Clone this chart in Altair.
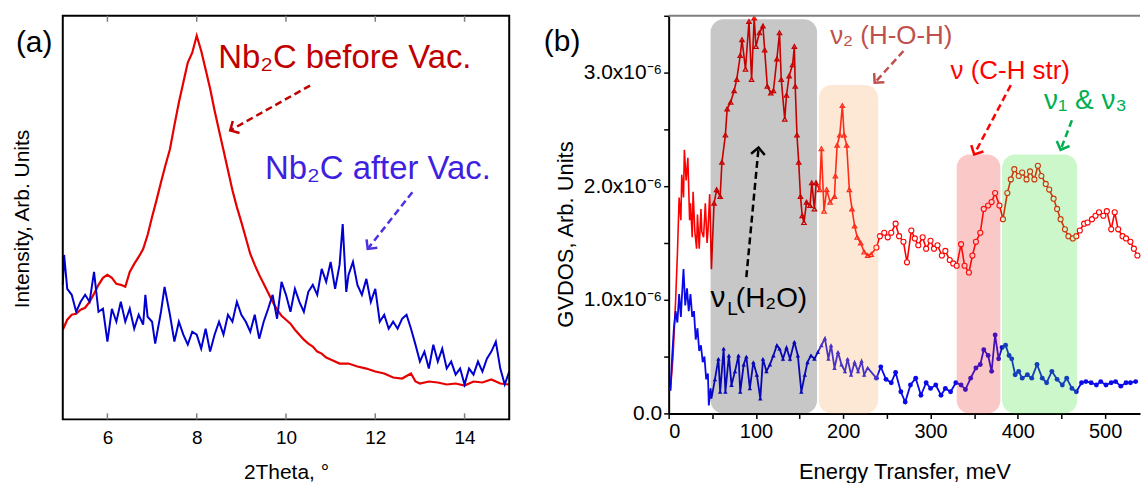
import altair as alt
import pandas as pd

FONT = "Liberation Sans"

# ---------------- Panel (a): XRD ----------------
a_red_theta = [5.0, 5.1, 5.2, 5.3, 5.4, 5.5, 5.6, 5.7, 5.8, 5.9, 6.0, 6.1, 6.2, 6.3, 6.4, 6.5, 6.6, 6.7, 6.8, 6.9,
               7.0, 7.1, 7.2, 7.3, 7.4, 7.5, 7.6, 7.7, 7.8, 7.9, 8.0, 8.1, 8.2, 8.3, 8.4, 8.5, 8.6, 8.7, 8.8, 8.9,
               9.0, 9.1, 9.2, 9.3, 9.4, 9.5, 9.6, 9.7, 9.8, 9.9, 10.0, 10.1, 10.2, 10.3, 10.4, 10.5, 10.6, 10.7,
               10.8, 10.9, 11.0, 11.2, 11.4, 11.6, 11.8, 12.0, 12.2, 12.4, 12.6, 12.8, 12.9, 13.0, 13.2, 13.4,
               13.6, 13.8, 14.0, 14.2, 14.4, 14.6, 14.8, 15.0]
a_red_int = [90, 100, 105, 106, 110, 112, 118, 126, 135, 142, 145, 142, 136, 135, 133, 148, 156, 163, 171, 185,
             203, 220, 238, 255, 271, 295, 318, 338, 358, 368, 385, 370, 351, 332, 310, 290, 270, 250, 230, 213,
             198, 182, 166, 155, 145, 136, 127, 118, 110, 104, 100, 96, 90, 85, 80, 76, 73, 68,
             66, 62, 60, 56, 56, 53, 51, 48, 46, 42, 41, 46, 38, 36, 38, 37,
             35, 36, 34, 38, 37, 40, 36, 35]

a_blue_theta = [5.0, 5.03, 5.1, 5.2, 5.3, 5.4, 5.5, 5.6, 5.7, 5.8, 5.9, 6.0, 6.1, 6.2, 6.3, 6.4, 6.5, 6.6, 6.7, 6.8,
                6.85, 6.9, 7.0, 7.07, 7.2, 7.28, 7.4, 7.5, 7.6, 7.7, 7.8, 7.9, 8.0, 8.1, 8.2, 8.3, 8.4, 8.5, 8.6,
                8.7, 8.8, 8.9, 9.0, 9.1, 9.2, 9.3, 9.4, 9.5, 9.6, 9.7, 9.8, 9.9, 10.0, 10.1, 10.2, 10.3, 10.4,
                10.5, 10.6, 10.7, 10.8, 10.9, 11.0, 11.1, 11.2, 11.27, 11.35, 11.4, 11.5, 11.6, 11.7, 11.8, 11.9,
                12.0, 12.1, 12.2, 12.3, 12.4, 12.5, 12.6, 12.7, 12.8, 12.9, 13.0, 13.1, 13.2, 13.3, 13.4, 13.5,
                13.6, 13.7, 13.8, 13.9, 14.0, 14.1, 14.2, 14.3, 14.4, 14.5, 14.6, 14.7, 14.8, 14.9, 15.0]
a_blue_int = [135, 165, 131, 125, 108, 118, 125, 118, 148, 108, 111, 78, 111, 98, 118, 98, 111, 91, 105, 95,
              125, 103, 98, 76, 108, 133, 105, 78, 98, 85, 75, 88, 85, 71, 91, 68, 85, 98, 85,
              105, 98, 118, 105, 98, 88, 105, 81, 98, 111, 125, 101, 138, 125, 108, 131, 118, 108,
              128, 135, 125, 151, 138, 158, 131, 155, 196, 128, 145, 158, 135, 125, 141, 118,
              131, 98, 105, 91, 98, 91, 101, 105, 91, 75, 58, 68, 51, 75, 58, 71,
              51, 58, 45, 51, 35, 51, 45, 58, 48, 61, 68, 78, 51, 35, 48]

a_ticks = [6, 8, 10, 12, 14]

# ---------------- Panel (b): GVDOS (units of 1e-6) ----------------
b_red_e = [2, 5, 8, 10, 12, 14, 15, 17, 18, 20, 22, 24, 25, 27, 28, 30, 32, 33, 35, 37, 38, 40, 42, 44, 45, 47, 49,
           52, 55, 59, 61, 65, 67, 71, 75, 78, 82, 84, 88, 92, 95, 98, 100, 104, 108, 110, 113, 117, 120, 124,
           127, 129, 133, 135, 138, 142, 144, 145, 147, 149, 151, 153, 155, 158, 162, 164, 167, 169,
           173, 175, 178, 181, 185, 190, 191, 193, 196, 199, 201, 204, 207, 210, 213, 216, 220, 224, 228, 232,
           238, 242, 247, 251, 255, 260, 264, 269, 273, 278, 282, 286, 291, 295, 300, 304, 308, 313, 317, 322,
           326, 330, 335, 339, 344, 348, 352, 357, 361, 366, 370, 374, 379, 383, 388, 392, 396, 401, 405, 410,
           414, 419, 423, 427, 432, 436, 441, 445, 449, 454, 458, 463, 467, 471, 476, 480, 485, 489, 493, 498,
           502, 507, 511, 515, 520, 524, 529, 533, 537]
b_red_v = [0.2, 0.5, 1.0, 1.4, 1.9, 1.7, 2.1, 1.9, 2.32, 2.05, 2.25, 1.7, 1.85, 1.55, 1.95, 1.6, 1.45, 1.75, 1.45,
           1.8, 1.6, 1.55, 1.85, 1.5, 1.6, 1.93, 1.27,
           1.85, 1.97, 1.91, 2.21, 2.45, 2.68, 2.74, 2.84, 2.94, 3.15, 3.29, 3.03, 3.45, 2.94, 3.48, 3.23, 3.35,
           3.41, 3.2, 2.88, 2.82, 2.84, 3.12, 3.35, 2.94, 2.59, 2.80, 2.97, 3.07, 3.23, 2.88, 2.45, 2.21, 1.91,
           1.74, 1.68, 1.86, 1.83, 2.03, 1.80, 2.03,
           1.97, 2.33, 1.78, 1.97, 1.86, 1.91, 2.09, 2.36, 2.45, 2.71, 2.45, 2.36, 1.97, 1.80, 1.65, 1.55, 1.50,
           1.42, 1.39, 1.40,
           1.46, 1.56, 1.59, 1.55, 1.59, 1.67, 1.56, 1.51, 1.33, 1.61, 1.54, 1.48, 1.55, 1.45, 1.52, 1.45, 1.48,
           1.39, 1.43, 1.35, 1.32, 1.30, 1.49, 1.30, 1.24, 1.39, 1.51, 1.59, 1.80, 1.83, 1.86, 1.94, 1.83, 1.71,
           1.94, 2.06, 2.15, 2.09, 2.12, 2.06, 2.13, 2.06, 2.18, 2.09, 2.02, 1.97, 1.89, 1.80, 1.71, 1.62, 1.56,
           1.54, 1.56, 1.61, 1.67, 1.68, 1.71, 1.74, 1.77, 1.74, 1.78, 1.62, 1.77, 1.62, 1.56, 1.54, 1.51, 1.45,
           1.39]

b_blue_e = [2, 4, 6, 8, 10, 12, 14, 15, 17, 19, 21, 23, 25, 27, 29, 31, 33, 35, 37, 39, 41, 43, 45, 46, 48,
            49, 53, 57, 59, 63, 65, 69, 72, 76, 80, 82, 86, 89, 93, 97, 101, 105, 108, 112, 116, 120, 124, 127,
            131, 135, 139, 144, 148, 152, 156, 159, 163, 167, 171, 175, 179, 183, 186, 190, 194, 198, 202, 205,
            209, 213, 217, 221, 224, 228,
            238, 243, 249, 255, 260, 266, 271, 277, 283, 289, 295, 300, 306, 312, 317, 323, 329, 335, 340, 346,
            352, 357, 361, 366, 370, 374, 378, 382, 386, 390, 393, 397, 401, 405, 411, 416, 422, 428, 433, 439,
            445, 451, 456, 462, 467, 473, 478, 484, 490, 495, 501, 507, 512, 518, 524, 529, 535]
b_blue_v = [0.2, 0.5, 0.75, 0.9, 0.8, 1.05, 0.85, 1.0, 1.27, 0.95, 1.1, 0.9, 1.05, 0.85, 0.9, 0.65, 0.75, 0.55,
            0.6, 0.45, 0.5, 0.3, 0.35, 0.07, 0.22,
            0.13, 0.30, 0.48, 0.19, 0.57, 0.19, 0.51, 0.25, 0.37, 0.51, 0.19, 0.43, 0.50, 0.22, 0.45, 0.34, 0.13,
            0.48, 0.37, 0.43, 0.51, 0.60, 0.57, 0.48, 0.58, 0.48, 0.63, 0.51, 0.19, 0.34, 0.45, 0.51, 0.48,
            0.54, 0.60, 0.66, 0.48, 0.60, 0.40, 0.54, 0.43, 0.37, 0.48, 0.34, 0.45, 0.37, 0.46, 0.34, 0.40,
            0.31, 0.41, 0.30, 0.27, 0.36, 0.19, 0.10, 0.25, 0.31, 0.16, 0.27, 0.22, 0.25, 0.16, 0.22, 0.19, 0.27,
            0.25, 0.21, 0.31, 0.40, 0.43, 0.56, 0.51, 0.37, 0.69, 0.48, 0.58, 0.60, 0.51, 0.48, 0.34, 0.37, 0.31,
            0.34, 0.31, 0.43, 0.31, 0.27, 0.37, 0.30, 0.25, 0.31, 0.22, 0.19, 0.27, 0.28, 0.27, 0.25, 0.28, 0.25,
            0.27, 0.28, 0.24, 0.27, 0.27, 0.28]

# shaded regions: start, end (meV), top (1e-6), fill, opacity
box_e0 = [48, 172, 330, 382]
box_e1 = [170, 240, 380, 468]
box_top = [3.47, 2.89, 2.28, 2.28]
box_fill = ["#000000", "#f7a55e", "#f02a2a", "#2ee02e"]
box_op = [0.22, 0.26, 0.26, 0.25]

AW, AH = 448, 405
BW, BH = 473, 399

ax_common = dict(labelFont=FONT, titleFont=FONT, labelColor="black", titleColor="black",
                 titleFontWeight="normal", grid=False)

# ---------------- build panel (a) ----------------
xa_scale = alt.Scale(domain=[5, 15], nice=False, zero=False)
ya_scale = alt.Scale(domain=[0, 405], nice=False, zero=False)
xa = alt.X("theta:Q", scale=xa_scale,
           axis=alt.Axis(values=a_ticks, title="2Theta, °", ticks=False, domain=False,
                         labelFontSize=19, labelPadding=9, titleFontSize=21,
                         titleY=53, titleBaseline="middle", **ax_common))
ya = alt.Y("val:Q", scale=ya_scale,
           axis=alt.Axis(title="Intensity, Arb. Units", labels=False, ticks=False, domain=False,
                         titleFontSize=21, titleX=-40, titleY=AH / 2 + 1, titleAngle=270,
                         titleAlign="center", titleBaseline="middle", **ax_common))

df_ar = pd.DataFrame({"theta": a_red_theta, "val": a_red_int})
df_ab = pd.DataFrame({"theta": a_blue_theta, "val": a_blue_int})
df_at = pd.DataFrame({"theta": a_ticks})

frame_a = alt.Chart(pd.DataFrame({"k": [0]})).mark_rect(
    fillOpacity=0, stroke="black", strokeWidth=2).encode(
    x=alt.value(0), x2=alt.value(AW), y=alt.value(0), y2=alt.value(AH))
ticks_bot = alt.Chart(df_at).mark_rule(color="#7f7f7f", strokeWidth=1.5).encode(
    x=xa, y=alt.value(AH - 6), y2=alt.value(AH))
ticks_top = alt.Chart(df_at).mark_rule(color="#7f7f7f", strokeWidth=1.5).encode(
    x=xa, y=alt.value(0), y2=alt.value(6))
line_ar = alt.Chart(df_ar).mark_line(color="#e60000", strokeWidth=2.2).encode(x=xa, y=ya)
line_ab = alt.Chart(df_ab).mark_line(color="#0000d0", strokeWidth=2).encode(x=xa, y=ya)

arr_a = pd.DataFrame({
    "theta": [10.54, 12.83], "val": [335, 228],
    "theta2": [8.75, 11.83], "val2": [290, 171],
    "col": ["#c00000", "#5030e0"], "ang": [150.6, 128.3],
})
arrows_a = alt.Chart(arr_a).mark_rule(strokeDash=[7, 4], strokeWidth=2.5).encode(
    x=xa, y=ya, x2="theta2:Q", y2="val2:Q", color=alt.Color("col:N", scale=None))
heads_a = alt.Chart(arr_a).mark_point(shape="M-1,-1L0,0L-1,1", filled=False, size=190, strokeWidth=2.5,
                                      opacity=1).encode(
    x=alt.X("theta2:Q", scale=xa_scale), y=alt.Y("val2:Q", scale=ya_scale),
    color=alt.Color("col:N", scale=None), angle=alt.Angle("ang:Q", scale=None))

txt_a = pd.DataFrame({
    "theta": [3.95, 8.48, 9.53], "val": [369, 353, 241],
    "txt": ["(a)", "Nb₂C before Vac.", "Nb₂C after Vac."],
    "col": ["black", "#c00000", "#3f1fe0"], "fs": [30, 33, 33],
})
texts_a = alt.Chart(txt_a).mark_text(align="left", baseline="alphabetic", font=FONT).encode(
    x=xa, y=ya, text="txt:N", color=alt.Color("col:N", scale=None), size=alt.Size("fs:Q", scale=None))

panel_a = alt.layer(line_ar, line_ab, frame_a, ticks_bot, ticks_top, arrows_a, heads_a, texts_a).properties(
    width=AW, height=AH)

# ---------------- build panel (b) ----------------
xb_scale = alt.Scale(domain=[0, 540], nice=False, zero=False)
yb_scale = alt.Scale(domain=[0, 3.5], nice=False, zero=False)
xb = alt.X("e:Q", scale=xb_scale,
           axis=alt.Axis(values=list(range(0, 501, 50)), title="Energy Transfer, meV",
                         labelExpr="datum.value % 100 == 0 ? datum.label : ''",
                         tickSize=5, tickColor="black", tickWidth=1.5, domainColor="black", domainWidth=2,
                         labelFontSize=20, labelPadding=3, titleFontSize=22,
                         titleY=58, titleBaseline="middle", **ax_common))
yb = alt.Y("v:Q", scale=yb_scale,
           axis=alt.Axis(values=[0, 0.5, 1, 1.5, 2, 2.5, 3, 3.5], title="GVDOS, Arb. Units",
                         labelExpr="datum.value == 0 ? '0.0' : (datum.value % 1 == 0 ? format(datum.value, '.1f') + 'x10⁻⁶' : '')",
                         tickSize=5, tickColor="black", tickWidth=1.5, domainColor="black", domainWidth=2,
                         labelFontSize=21, labelPadding=2, titleFontSize=22,
                         titleX=-103, titleY=219, titleAngle=270, titleAlign="center",
                         titleBaseline="middle", **ax_common))


def segment(e):
    return "none" if e < 50 else ("tri" if e < 235 else "circ")


df_br = pd.DataFrame({"e": b_red_e, "v": b_red_v})
df_br["seg"] = [segment(e) for e in b_red_e]
df_bb = pd.DataFrame({"e": b_blue_e, "v": b_blue_v})
df_bb["seg"] = [segment(e) for e in b_blue_e]

line_br = alt.Chart(df_br).mark_line(color="#ff0000", strokeWidth=1.6).encode(x=xb, y=yb)
line_bb = alt.Chart(df_bb).mark_line(color="#0a0ae8", strokeWidth=1.8).encode(x=xb, y=yb)

tri_br = alt.Chart(df_br).transform_filter("datum.seg == 'tri'").mark_point(
    shape="triangle-up", filled=False, size=20, color="#ff0000", strokeWidth=1.2, opacity=1).encode(x=xb, y=yb)
circ_br = alt.Chart(df_br).transform_filter("datum.seg == 'circ'").mark_point(
    shape="circle", filled=True, fill="white", stroke="#ff0000", size=26, strokeWidth=1.1, opacity=1).encode(
    x=xb, y=yb)
tri_bb = alt.Chart(df_bb).transform_filter("datum.seg == 'tri'").mark_point(
    shape="triangle-up", filled=True, size=20, color="#0a0ae8", opacity=1).encode(x=xb, y=yb)
circ_bb = alt.Chart(df_bb).transform_filter("datum.seg == 'circ'").mark_point(
    shape="circle", filled=True, size=24, color="#0a0ae8", opacity=1).encode(x=xb, y=yb)

df_box = pd.DataFrame({"e": box_e0, "e2": box_e1, "v": [0] * 4, "v2": box_top,
                       "col": box_fill, "op": box_op})
boxes = alt.Chart(df_box).mark_rect(cornerRadius=13).encode(
    x=xb, x2="e2:Q", y=yb, y2="v2:Q", color=alt.Color("col:N", scale=None),
    opacity=alt.Opacity("op:Q", scale=None))

top_b = alt.Chart(pd.DataFrame({"k": [0]})).mark_rule(color="#7f7f7f", strokeWidth=2).encode(
    x=alt.value(0), x2=alt.value(BW), y=alt.value(0))

arr_b = pd.DataFrame({
    "e": [269, 392, 462, 89], "v": [3.19, 2.89, 2.58, 1.20],
    "e2": [236, 350, 449, 103], "v2": [2.91, 2.28, 2.32, 2.34],
    "col": ["#c0504d", "#ff0000", "#00b050", "#000000"], "ang": [132, 117.5, 111.8, 275.3],
})
arrows_b = alt.Chart(arr_b).mark_rule(strokeDash=[7, 4], strokeWidth=2.5).encode(
    x=xb, y=yb, x2="e2:Q", y2="v2:Q", color=alt.Color("col:N", scale=None))
heads_b = alt.Chart(arr_b).mark_point(shape="M-1,-1L0,0L-1,1", filled=False, size=190, strokeWidth=2.5,
                                      opacity=1).encode(
    x=alt.X("e2:Q", scale=xb_scale), y=alt.Y("v2:Q", scale=yb_scale),
    color=alt.Color("col:N", scale=None), angle=alt.Angle("ang:Q", scale=None))

txt_b = pd.DataFrame({
    "e": [-143, 185, 323, 430, 48, 67, 77],
    "v": [3.19, 3.25, 2.94, 2.68, 0.94, 0.87, 0.94],
    "txt": ["(b)", "ν₂ (H-O-H)", "ν (C-H str)", "ν₁ & ν₃", "ν", "L", "(H₂O)"],
    "col": ["black", "#c0504d", "#ff0000", "#00b050", "black", "black", "black"],
    "fs": [30, 26, 26, 28, 30, 19, 28],
})
texts_b = alt.Chart(txt_b).mark_text(align="left", baseline="alphabetic", font=FONT).encode(
    x=xb, y=yb, text="txt:N", color=alt.Color("col:N", scale=None), size=alt.Size("fs:Q", scale=None))

panel_b = alt.layer(line_br, line_bb, tri_br, circ_br, tri_bb, circ_bb, boxes, top_b,
                    arrows_b, heads_b, texts_b).properties(width=BW, height=BH)

chart = alt.hconcat(panel_a, panel_b, spacing=160, bounds="flush").properties(
    padding={"left": 12, "top": 12, "right": 0, "bottom": 0},
    autosize=alt.AutoSizeParams(type="pad"),
    background="white",
).configure_view(stroke=None)

chart.save("out.html", embed_options={"renderer": "svg", "actions": False})
